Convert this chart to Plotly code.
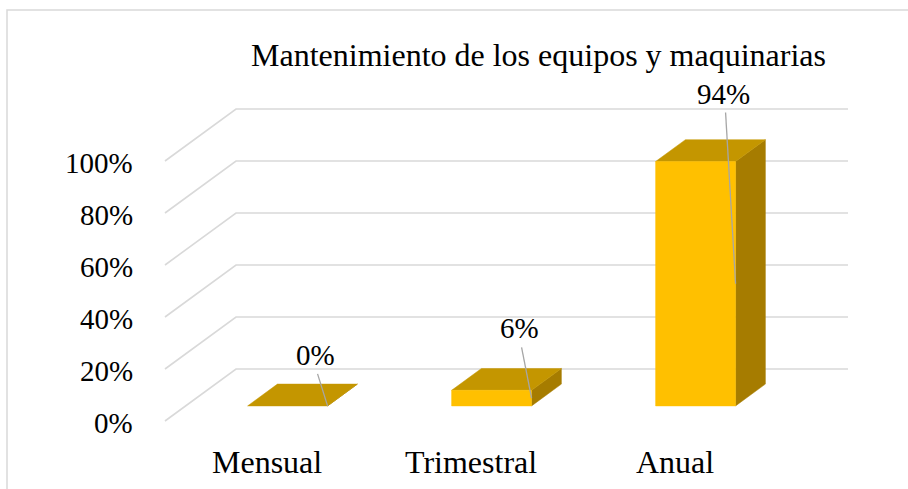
import plotly.graph_objects as go

# data
categories = ["Mensual", "Trimestral", "Anual"]
values = [0, 6, 94]
value_labels = ["0%", "6%", "94%"]
tick_values = [0, 20, 40, 60, 80, 100]
tick_labels = ["0%", "20%", "40%", "60%", "80%", "100%"]
title = "Mantenimiento de los equipos y maquinarias"

# label lift above the bar front top, in px (style)
label_lift = [51, 62, 68]

W, H = 908, 489
PX_X = 204.0   # px per category
PX_Y = 2.6     # px per percent
DEPTH_X = 71 / PX_X
DEPTH_Y = 52 / PX_Y

FONT = "Liberation Serif, Times New Roman, serif"
FRONT = "#FFC000"
TOP = "#C49600"
SIDE = "#A67C00"
GRID = "#D9D9D9"


def proj(x, v, d):
    # oblique projection of (category, value, depth) into the 2d axes
    return x + DEPTH_X * d, v + DEPTH_Y * d


def poly(pts, color):
    xs, ys = zip(*[proj(*p) for p in pts])
    return go.Scatter(x=list(xs) + [xs[0]], y=list(ys) + [ys[0]], mode="lines",
                      fill="toself", fillcolor=color, line=dict(color=color, width=0.5),
                      hoverinfo="skip", showlegend=False)


fig = go.Figure()

# gridlines (floor/back wall style)
for v in tick_values:
    pts = [proj(-0.5, v, 0), proj(-0.5, v, 1), proj(len(categories) - 0.5, v, 1)]
    fig.add_trace(go.Scatter(x=[p[0] for p in pts], y=[p[1] for p in pts], mode="lines",
                             line=dict(color=GRID, width=1.6), hoverinfo="skip", showlegend=False))

hw = 0.196
d0, d1 = 0.29, 0.71
for i, v in enumerate(values):
    fig.add_trace(poly([(i + hw, 0, d0), (i + hw, 0, d1), (i + hw, v, d1), (i + hw, v, d0)], SIDE))
    fig.add_trace(poly([(i - hw, v, d0), (i + hw, v, d0), (i + hw, v, d1), (i - hw, v, d1)], TOP))
    if v > 0:
        fig.add_trace(poly([(i - hw, 0, d0), (i + hw, 0, d0), (i + hw, v, d0), (i - hw, v, d0)], FRONT))

    # data label + leader line
    fx, fy = proj(i + hw, v, d0)
    mx, my = proj(i + hw, v / 2, d0)
    lab_y = fy + label_lift[i] / PX_Y
    fig.add_trace(go.Scatter(x=[fx - 10 / PX_X, mx], y=[lab_y - 19 / PX_Y, my], mode="lines",
                             line=dict(color="#A6A6A6", width=1.3), hoverinfo="skip", showlegend=False))
    fig.add_annotation(x=fx - 12 / PX_X, y=lab_y, text=value_labels[i], showarrow=False,
                       xanchor="center", yanchor="middle",
                       font=dict(family=FONT, size=29, color="#000000"))

# value axis labels
for v, t in zip(tick_values, tick_labels):
    fig.add_annotation(x=-0.5, y=v, text=t, showarrow=False, xanchor="right", yanchor="middle",
                       xshift=-30, yshift=-2, font=dict(family=FONT, size=29, color="#000000"))

# category labels
for i, c in enumerate(categories):
    fig.add_annotation(x=i, y=-41 / PX_Y, text=c, showarrow=False, xanchor="center", yanchor="middle",
                       font=dict(family=FONT, size=32, color="#000000"))

fig.add_annotation(x=538 / W, y=1 - 55 / H, xref="paper", yref="paper", text=title, showarrow=False,
                   xanchor="center", yanchor="middle", font=dict(family=FONT, size=32, color="#000000"))

# chart border (partially cropped in the reference)
fig.add_shape(type="rect", xref="paper", yref="paper", x0=7 / W, x1=1.05, y0=-0.05, y1=1 - 10 / H,
              line=dict(color=GRID, width=1.5))

x0 = -0.5 - 165 / PX_X
fig.update_xaxes(range=[x0, x0 + W / PX_X], visible=False, fixedrange=True)
fig.update_yaxes(range=[-(H - 421) / PX_Y, 421 / PX_Y], visible=False, fixedrange=True)
fig.update_layout(width=W, height=H, margin=dict(l=0, r=0, t=0, b=0),
                  plot_bgcolor="white", paper_bgcolor="white", showlegend=False)

fig.write_html("out.html", config={"displayModeBar": False},
               post_script="document.body.style.margin='0';")
